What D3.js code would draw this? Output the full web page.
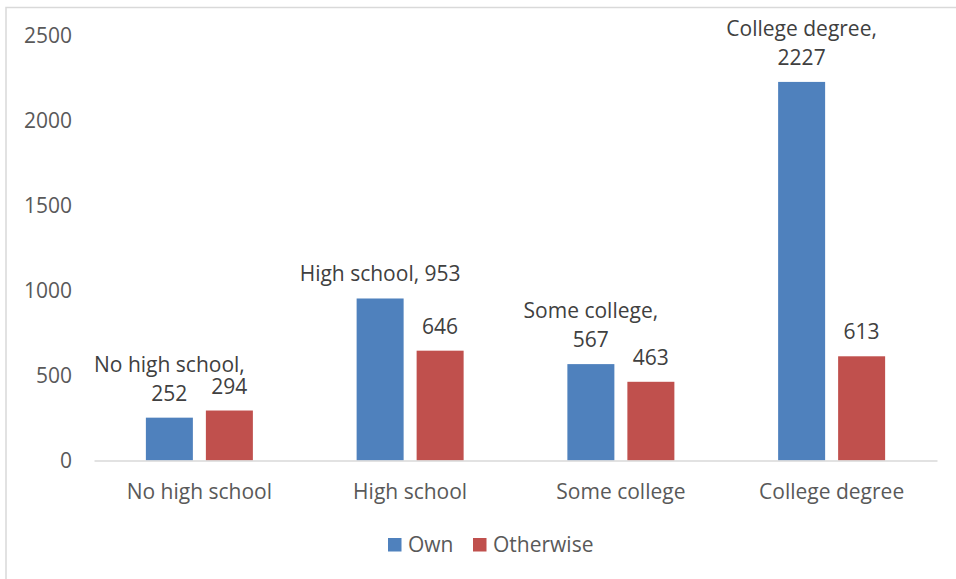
<!DOCTYPE html>
<html><head><meta charset="utf-8">
<script src="https://cdn.jsdelivr.net/npm/d3@7"></script>
<style>
html,body{margin:0;padding:0;background:#fff;}
svg{display:block;font-family:"Open Sans",sans-serif;}
</style></head>
<body>
<svg id="chart" width="956" height="579"></svg>
<script>
const categories = ["No high school", "High school", "Some college", "College degree"];
const series = ["Own", "Otherwise"];
const ownValues = [252, 953, 567, 2227];
const otherwiseValues = [294, 646, 463, 613];
const yTicks = [0, 500, 1000, 1500, 2000, 2500];
const colors = ["#4F81BD", "#C0504D"];

const svg = d3.select("#chart");
const W = 956, H = 579;
const plot = {left: 94, right: 937, top: 35.5, bottom: 460.5};
const FS = "21px";

// chart border
svg.append("rect").attr("x", 6).attr("y", 7.5).attr("width", W + 10).attr("height", H + 10)
  .attr("fill", "none").attr("stroke", "#d9d9d9").attr("stroke-width", 1.5);

const y = d3.scaleLinear().domain([0, 2500]).range([plot.bottom, plot.top]);
const x0 = d3.scaleBand().domain(categories).range([plot.left, plot.right]).padding(0);
const bw = x0.bandwidth();
const groupW = 107;
const x1 = d3.scaleBand().domain(series).range([(bw - groupW) / 2, (bw + groupW) / 2]).paddingInner(13 / 60).paddingOuter(0);

const data = categories.map((c, i) => ({cat: c, vals: [ownValues[i], otherwiseValues[i]]}));

// y axis labels
const yAxis = d3.axisLeft(y).tickValues(yTicks).tickFormat(d3.format("d")).tickSize(0).tickPadding(0);
const yg = svg.append("g").attr("transform", `translate(72,0)`).call(yAxis);
yg.select(".domain").remove();
yg.selectAll("text").attr("fill", "#595959").style("font-size", FS).style("font-family", "'Open Sans',sans-serif");

// bars
const groups = svg.selectAll("g.cat").data(data).enter().append("g").attr("class", "cat")
  .attr("transform", d => `translate(${x0(d.cat)},0)`);
groups.selectAll("rect").data(d => d.vals.map((v, j) => ({s: series[j], v, j, cat: d.cat})))
  .enter().append("rect")
  .attr("x", d => x1(d.s)).attr("width", x1.bandwidth())
  .attr("y", d => y(d.v)).attr("height", d => y(0) - y(d.v))
  .attr("fill", d => colors[d.j]);

// x axis
const xAxis = d3.axisBottom(x0).tickSize(0).tickPadding(0);
const xg = svg.append("g").attr("transform", `translate(0,${plot.bottom})`).call(xAxis);
xg.select(".domain").attr("stroke", "#d9d9d9").attr("stroke-width", 1.5);
xg.selectAll("text").attr("fill", "#595959").attr("dy", 0).attr("y", 38)
  .style("font-size", FS).style("font-family", "'Open Sans',sans-serif");

// data labels
const lineH = 29;
groups.each(function(d) {
  const g = d3.select(this);
  d.vals.forEach((v, j) => {
    const cx = x1(series[j]) + x1.bandwidth() / 2;
    const baseY = y(v) - 17;
    if (j === 0) {
      const full = `${d.cat}, ${v}`;
      const t = g.append("text").attr("x", cx).attr("y", baseY).attr("text-anchor", "middle")
        .attr("fill", "#404040").style("font-size", FS).text(full);
      if (t.node().getComputedTextLength() > 176) {
        t.text(null);
        t.append("tspan").attr("x", cx).attr("y", baseY - lineH).text(`${d.cat},`);
        t.append("tspan").attr("x", cx).attr("y", baseY).text(`${v}`);
      }
    } else {
      g.append("text").attr("x", cx).attr("y", baseY).attr("text-anchor", "middle")
        .attr("fill", "#404040").style("font-size", FS).text(`${v}`);
    }
  });
});

// legend
const legendX = [388, 473];
series.forEach((s, i) => {
  svg.append("rect").attr("x", legendX[i]).attr("y", 538).attr("width", 13.5).attr("height", 13.5).attr("fill", colors[i]);
  svg.append("text").attr("x", legendX[i] + 20).attr("y", 552).attr("fill", "#595959")
    .style("font-size", FS).text(s);
});
</script>
</body></html>
